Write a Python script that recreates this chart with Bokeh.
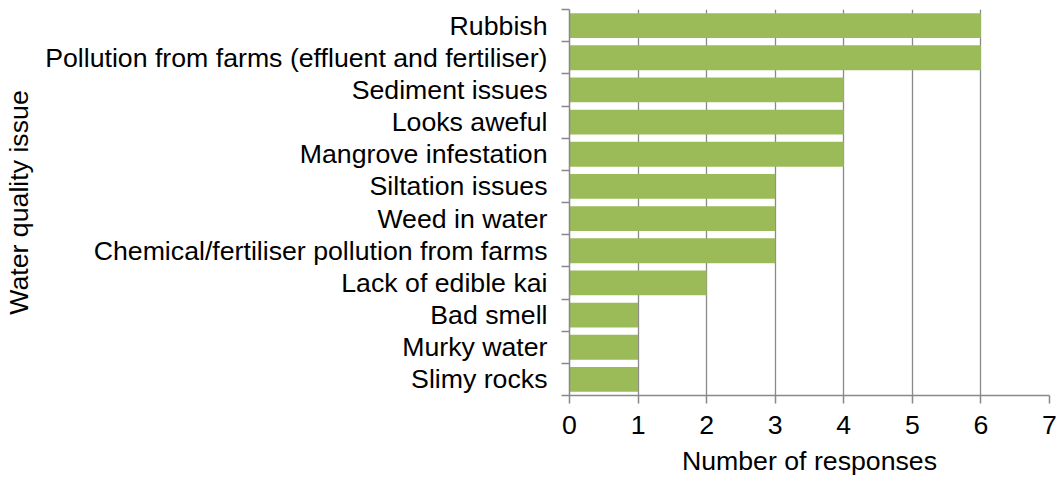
from bokeh.plotting import figure
from bokeh.models import Range1d, FixedTicker
from bokeh.embed import file_html
from bokeh.resources import INLINE

# Survey results: water quality issues raised, bottom to top
issues = [
    "Slimy rocks",
    "Murky water",
    "Bad smell",
    "Lack of edible kai",
    "Chemical/fertiliser pollution from farms",
    "Weed in water",
    "Siltation issues",
    "Mangrove infestation",
    "Looks aweful",
    "Sediment issues",
    "Pollution from farms (effluent and fertiliser)",
    "Rubbish",
]
responses = [1, 1, 1, 2, 3, 3, 3, 4, 4, 4, 6, 6]
x_ticks = [0, 1, 2, 3, 4, 5, 6, 7]

positions = list(range(1, len(issues) + 1))
boundaries = [p - 0.5 for p in positions] + [positions[-1] + 0.5]

GREY = "#898989"
FONT = "Liberation Sans"
SIZE = "26.7px"

p = figure(
    width=1061,
    height=481,
    output_backend="svg",
    toolbar_location=None,
    x_range=Range1d(0, 7),
    y_range=Range1d(0.5, len(issues) + 0.5),
    min_border_left=569,
    min_border_right=12,
    min_border_top=9,
    min_border_bottom=86,
)
p.outline_line_color = None
p.background_fill_color = "white"
p.border_fill_color = "white"

p.hbar(y=positions, right=responses, left=0, height=0.77,
       fill_color="#9BBB59", line_color=None)

# x axis
xa = p.xaxis[0]
xa.ticker = FixedTicker(ticks=x_ticks, minor_ticks=[])
xa.axis_line_color = GREY
xa.axis_line_width = 1.5
xa.major_tick_line_color = GREY
xa.major_tick_line_width = 1.5
xa.major_tick_out = 8
xa.major_tick_in = 0
xa.minor_tick_line_color = None
xa.major_label_text_font = FONT
xa.major_label_text_font_size = SIZE
xa.major_label_text_color = "black"
xa.major_label_standoff = 12
xa.axis_label = "Number of responses"
xa.axis_label_text_font = FONT
xa.axis_label_text_font_size = SIZE
xa.axis_label_text_font_style = "normal"
xa.axis_label_text_color = "black"
xa.axis_label_standoff = 9

# y axis: category names at bar centres, tick marks at boundaries
ya = p.yaxis[0]
ya.ticker = FixedTicker(ticks=positions, minor_ticks=boundaries)
ya.major_label_overrides = {pos: name for pos, name in zip(positions, issues)}
ya.axis_line_color = GREY
ya.axis_line_width = 1.5
ya.major_tick_line_color = None
ya.major_tick_out = 0
ya.major_tick_in = 0
ya.minor_tick_line_color = GREY
ya.minor_tick_line_width = 1.5
ya.minor_tick_out = 8
ya.minor_tick_in = 0
ya.major_label_text_font = FONT
ya.major_label_text_font_size = SIZE
ya.major_label_text_color = "black"
ya.major_label_standoff = 14
ya.axis_label = "Water quality issue"
ya.axis_label_text_font = FONT
ya.axis_label_text_font_size = SIZE
ya.axis_label_text_font_style = "normal"
ya.axis_label_text_color = "black"
ya.axis_label_standoff = 8

p.xgrid.ticker = FixedTicker(ticks=x_ticks)
p.xgrid.grid_line_color = GREY
p.xgrid.grid_line_width = 1.3
p.ygrid.grid_line_color = None

open("out.html", "w").write(file_html(p, INLINE))
